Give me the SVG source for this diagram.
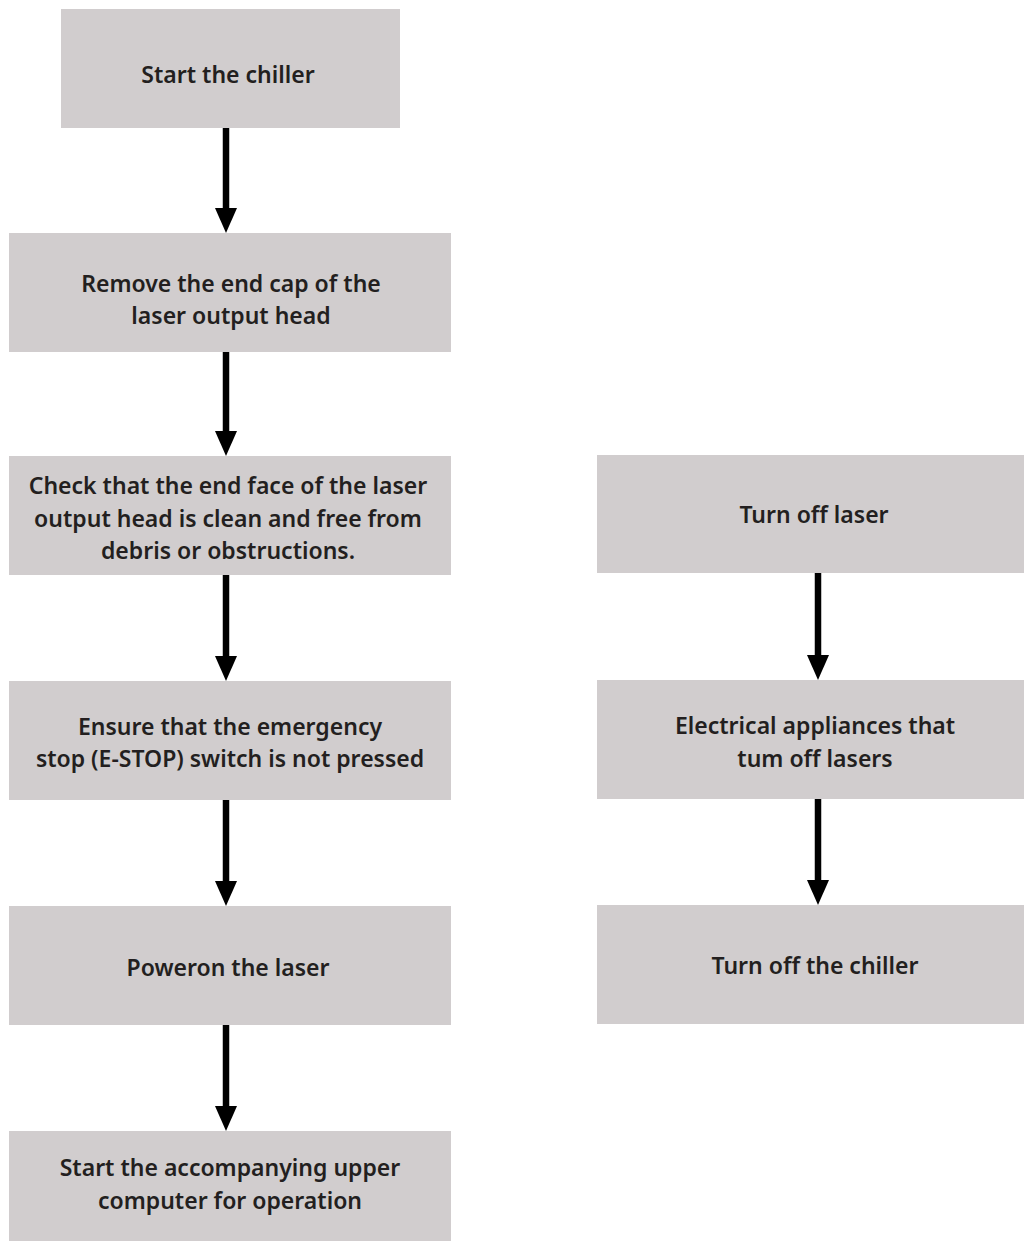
<svg xmlns="http://www.w3.org/2000/svg" width="1024" height="1241" viewBox="0 0 1024 1241">
<style>
.box{fill:#d1cdce;}
.t{font-family:"Noto Sans","Open Sans",sans-serif;font-weight:600;font-size:23px;fill:#231f20;text-anchor:middle;}
.c{stroke:#000;stroke-width:6.5;fill:none;marker-end:url(#ah);}
</style>
<defs>
<marker id="ah" markerUnits="userSpaceOnUse" viewBox="0 0 25 22" markerWidth="25" markerHeight="22" refX="5" refY="11" orient="auto">
<path d="M0,0 L25,11 L0,22 Z" fill="#000"/>
</marker>
</defs>
<rect width="1024" height="1241" fill="#fff"/>
<g id="n1"><rect class="box" x="61" y="9" width="339" height="119"/><text class="t" x="228" y="83">Start the chiller</text></g>
<g id="n2"><rect class="box" x="9" y="233" width="442" height="119"/><text class="t" x="231" y="292">Remove the end cap of the</text><text class="t" x="231" y="324">laser output head</text></g>
<g id="n3"><rect class="box" x="9" y="456" width="442" height="119"/><text class="t" x="228" y="494">Check that the end face of the laser</text><text class="t" x="228" y="527">output head is clean and free from</text><text class="t" x="228" y="559">debris or obstructions.</text></g>
<g id="n4"><rect class="box" x="9" y="681" width="442" height="119"/><text class="t" x="230" y="735">Ensure that the emergency</text><text class="t" x="230" y="767">stop (E-STOP) switch is not pressed</text></g>
<g id="n5"><rect class="box" x="9" y="906" width="442" height="119"/><text class="t" x="228" y="976">Poweron the laser</text></g>
<g id="n6"><rect class="box" x="9" y="1131" width="442" height="119"/><text class="t" x="230" y="1176">Start the accompanying upper</text><text class="t" x="230" y="1209">computer for operation</text></g>
<g id="n7"><rect class="box" x="597" y="455" width="440" height="118"/><text class="t" x="814" y="523">Turn off laser</text></g>
<g id="n8"><rect class="box" x="597" y="680" width="440" height="119"/><text class="t" x="815" y="734">Electrical appliances that</text><text class="t" x="815" y="767">tum off lasers</text></g>
<g id="n9"><rect class="box" x="597" y="905" width="440" height="119"/><text class="t" x="815" y="974">Turn off the chiller</text></g>
<g id="connectors">
<line class="c" x1="226" y1="128" x2="226" y2="213"/>
<line class="c" x1="226" y1="352" x2="226" y2="436"/>
<line class="c" x1="226" y1="575" x2="226" y2="661"/>
<line class="c" x1="226" y1="800" x2="226" y2="886"/>
<line class="c" x1="226" y1="1025" x2="226" y2="1111"/>
<line class="c" x1="818" y1="573" x2="818" y2="660"/>
<line class="c" x1="818" y1="799" x2="818" y2="885"/>
</g>
</svg>
